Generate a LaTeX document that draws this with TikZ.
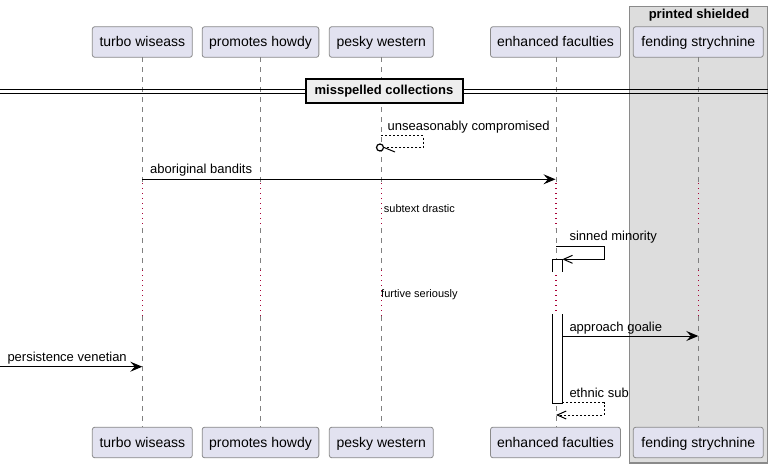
\documentclass[tikz,border=0pt]{standalone}
\usepackage{fontspec}
\setmainfont{Liberation Sans}
\usetikzlibrary{arrows.meta}
\definecolor{partfill}{HTML}{E2E2F0}
\definecolor{partdraw}{HTML}{8A8A8A}
\definecolor{groupfill}{HTML}{DDDDDD}
\definecolor{groupdraw}{HTML}{8A8A8A}
\definecolor{delayc}{HTML}{A80036}
\definecolor{divfill}{HTML}{EEEEEE}
\begin{document}
\begin{tikzpicture}[x=1pt,y=-1pt,
  part/.style={draw=partdraw, fill=partfill, rounded corners=2.5pt, minimum height=30.6pt, inner sep=0pt, text height=12.5pt, text depth=3pt, font=\fontsize{14}{16}\selectfont, line width=0.8pt},
  life/.style={draw=black!50, dash pattern=on 5pt off 5pt, line width=0.8pt},
  delayline/.style={draw=delayc, dash pattern=on 1pt off 4pt, line width=1.1pt},
  msg/.style={line width=1pt, -{Stealth[length=12pt,width=10pt,inset=4.5pt]}},
  ret/.style={line width=1pt, dash pattern=on 2pt off 2pt, -{Straight Barb[length=9pt,width=8pt]}},
  selfmsg/.style={line width=1pt, -{Straight Barb[length=9pt,width=8pt]}},
  lbl/.style={font=\fontsize{13}{15}\selectfont, anchor=west, inner sep=0pt},
  dlbl/.style={font=\fontsize{11}{13}\selectfont, anchor=west, inner sep=0pt}]
\useasboundingbox (0,0) rectangle (774,468);

% group box
\node[draw=groupdraw, fill=groupfill, line width=1.2pt, minimum width=138.4pt, minimum height=456.3pt, inner sep=0pt] (grp) at (698.5,234.85) {};
\node[font=\bfseries\fontsize{13}{15}\selectfont, inner sep=0pt] (grpt) at (699,15.5) {printed shielded};

% participants
\node[part, minimum width=100pt]   (p1) at (142.3,42) {turbo wiseass};
\node[part, minimum width=116.7pt] (p2) at (260.5,42) {promotes howdy};
\node[part, minimum width=104pt]   (p3) at (381.3,42) {pesky western};
\node[part, minimum width=130pt]   (p4) at (555.5,42) {enhanced faculties};
\node[part, minimum width=130pt]   (p5) at (698.3,42) {fending strychnine};
\node[part, minimum width=100pt]   (q1) at (142.3,442.5) {turbo wiseass};
\node[part, minimum width=116.7pt] (q2) at (260.5,442.5) {promotes howdy};
\node[part, minimum width=104pt]   (q3) at (381.3,442.5) {pesky western};
\node[part, minimum width=130pt]   (q4) at (555.5,442.5) {enhanced faculties};
\node[part, minimum width=130pt]   (q5) at (698.3,442.5) {fending strychnine};

% lifelines
\foreach \x in {142.3, 260.5, 381.3, 556, 698.3}{
  \draw[life] (\x,57.3) -- (\x,183);
  \draw[delayline] (\x,183) -- (\x,228);
  \draw[life] (\x,228) -- (\x,270);
  \draw[delayline] (\x,270) -- (\x,316);
  \draw[life] (\x,316) -- (\x,427.3);
}

% divider
\coordinate (dA) at (0,89.5);
\coordinate (dB) at (768,89.5);
\coordinate (dC) at (0,93.5);
\coordinate (dD) at (768,93.5);
\draw[line width=1pt] (dA) -- (dB);
\draw[line width=1pt] (dC) -- (dD);
\node[draw=black, fill=divfill, line width=2pt, minimum width=157pt, minimum height=24pt, inner sep=0pt, font=\bfseries\fontsize{13}{15}\selectfont] (div) at (384,91.2) {misspelled collections};

% unseasonably compromised
\node[draw, circle, line width=1.2pt, minimum size=7pt, inner sep=0pt, fill=white] (c1) at (380,147.5) {};
\coordinate (u0) at (381.3,135.7);
\coordinate (u1) at (423.3,135.7);
\coordinate (u2) at (423.3,147.8);
\draw[line width=1pt, dash pattern=on 2pt off 2pt] (u0) -- (u1) -- (u2) -- (c1.east |- u2);
\coordinate (ub) at (395,152);
\draw[line width=1pt] (c1.east) -- (ub);
\node[lbl] (tu) at (387.5,127.5) {unseasonably compromised};

% aboriginal bandits
\coordinate (y1) at (0,179.3);
\draw[msg] (p1 |- y1) -- (p4.center |- y1);
\node[lbl] (t1) at (150,170) {aboriginal bandits};

% delays
\node[dlbl] (dt1) at (383.7,208.8) {subtext drastic};
\node[dlbl] (dt2) at (381,294.8) {furtive seriously};

% activation box
\fill[white] (552.3,259.3) rectangle (562.3,272);
\fill[white] (552.3,314) rectangle (562.3,403);
\draw[line width=1pt] (552.3,272) -- (552.3,259.3) -- (562.3,259.3) -- (562.3,272);
\draw[line width=1pt] (552.3,314) -- (552.3,403) -- (562.3,403) -- (562.3,314);

% sinned minority
\coordinate (s0) at (556,246.7);
\coordinate (s1) at (604,246.7);
\coordinate (s2) at (604,259.3);
\coordinate (s3) at (562.3,259.3);
\draw[selfmsg] (s0) -- (s1) -- (s2) -- (s3);
\node[lbl] (ts) at (569.3,237.3) {sinned minority};

% approach goalie
\coordinate (a0) at (562.3,336);
\draw[msg] (a0) -- (p5 |- a0);
\node[lbl] (ta) at (569.3,328) {approach goalie};

% persistence venetian
\coordinate (v0) at (0,366.7);
\draw[msg] (v0) -- (p1 |- v0);
\node[lbl] (tv) at (7.3,358.2) {persistence venetian};

% ethnic sub
\coordinate (e0) at (562.3,402.7);
\coordinate (e1) at (604,402.7);
\coordinate (e2) at (604,415);
\coordinate (e3) at (556,415);
\draw[ret] (e0) -- (e1) -- (e2) -- (e3);
\node[lbl] (te) at (569.3,393) {ethnic sub};
\end{tikzpicture}
\end{document}
